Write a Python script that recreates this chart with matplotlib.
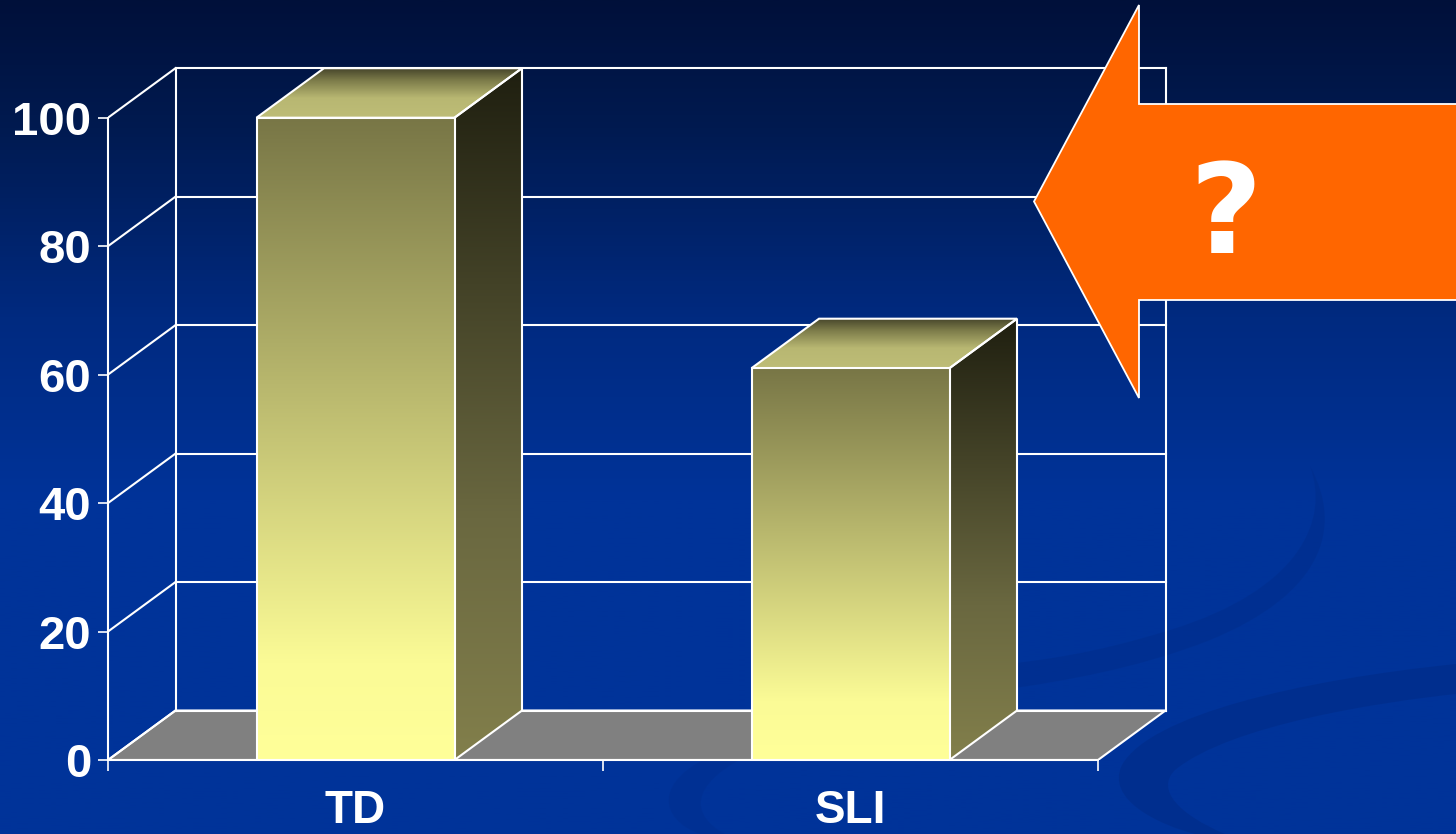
import numpy as np
import matplotlib
matplotlib.use('Agg')
import matplotlib.pyplot as plt
from matplotlib.patches import Polygon, PathPatch
from matplotlib.path import Path
from matplotlib.colors import LinearSegmentedColormap

plt.rcParams['font.family'] = ['Liberation Sans', 'DejaVu Sans']

# ---- data ----
categories = ['TD', 'SLI']
values = [100, 61]
yticks = [0, 20, 40, 60, 80, 100]

W, H = 1456, 834
fig = plt.figure(figsize=(W / 100, H / 100), dpi=100)

# ---- background ----
bg = fig.add_axes([0, 0, 1, 1], zorder=0)
bg.set_xlim(0, W); bg.set_ylim(H, 0); bg.axis('off')
cmap_bg = LinearSegmentedColormap.from_list(
    'bg', [(0, '#00103a'), (0.15, '#001a50'), (0.38, '#002a80'), (0.6, '#003399'), (1, '#003399')])
grad = np.linspace(0, 1, 500).reshape(-1, 1)
bg.imshow(grad, extent=[0, W, H, 0], aspect='auto', cmap=cmap_bg)

def crescent(verts_codes, color, alpha):
    verts, codes = zip(*verts_codes)
    p = PathPatch(Path(verts, codes), facecolor=color, edgecolor='none', alpha=alpha)
    bg.add_patch(p)

M, C, L, Z = Path.MOVETO, Path.CURVE4, Path.LINETO, Path.CLOSEPOLY
# big swoosh bottom right
crescent([((1456, 664), M), ((1300, 680), C), ((1150, 715), C), ((1122, 765), C),
          ((1105, 800), C), ((1160, 825), C), ((1195, 834), C),
          ((1225, 834), L), ((1180, 815), C), ((1155, 790), C), ((1175, 770), C),
          ((1230, 725), C), ((1380, 702), C), ((1456, 694), C),
          ((1456, 664), Z)], '#002d8a', 0.7)
# thin arc
crescent([((1310, 466), M), ((1330, 520), C), ((1300, 590), C), ((1170, 630), C),
          ((1090, 655), C), ((1040, 660), C), ((1000, 665), C),
          ((1000, 690), L), ((1060, 682), C), ((1140, 668), C), ((1210, 640), C),
          ((1320, 595), C), ((1345, 530), C), ((1310, 466), C),
          ((1310, 466), Z)], '#002d8a', 0.5)
# faint bottom-middle arc
crescent([((720, 752), M), ((650, 780), C), ((660, 820), C), ((700, 834), C),
          ((725, 834), L), ((690, 815), C), ((690, 785), C), ((745, 757), C),
          ((720, 752), Z)], '#002d8a', 0.35)

# ---- chart axes (pixel scale: x 495 px/unit, y 6.423 px/unit) ----
sx, sy = 495.0, 6.423
x0px, y0px = 108, 760
xmax, ymax = 2.2, 110
ax = fig.add_axes([x0px / W, (H - y0px) / H, xmax * sx / W, ymax * sy / H], zorder=1)
ax.patch.set_alpha(0)
dx = 67.5 / sx
dy = 49.5 / sy
ncat = len(categories)
lw = 1.5

# floor
ax.add_patch(Polygon([(0, 0), (ncat, 0), (ncat + dx, dy), (dx, dy)], closed=True,
                     facecolor='#808080', edgecolor='white', lw=lw, zorder=1))
# back wall and side wall grid
for t in yticks:
    ax.plot([dx, ncat + dx], [t + dy, t + dy], color='white', lw=lw, zorder=1.5)
    ax.plot([0, dx], [t, t + dy], color='white', lw=lw, zorder=1.5)
for xx in [dx, ncat + dx]:
    ax.plot([xx, xx], [dy, yticks[-1] + dy], color='white', lw=lw, zorder=1.5)

def grad_face(poly_pts, extent, colors, z):
    poly = Polygon(poly_pts, closed=True, facecolor='none', edgecolor='none')
    ax.add_patch(poly)
    cm = LinearSegmentedColormap.from_list('f', colors)
    g = np.linspace(0, 1, 256).reshape(-1, 1)
    im = ax.imshow(g, extent=extent, origin='lower', aspect='auto', cmap=cm,
                   interpolation='bilinear', zorder=z)
    im.set_clip_path(poly)
    outline = Polygon(poly_pts, closed=True, facecolor='none', edgecolor='white',
                      lw=lw, zorder=z + 0.1)
    ax.add_patch(outline)

bw = 0.4
for i, v in enumerate(values):
    xl = i + 0.5 - bw / 2
    xr = i + 0.5 + bw / 2
    # side face
    grad_face([(xr, 0), (xr + dx, dy), (xr + dx, v + dy), (xr, v)],
              [xr, xr + dx, 0, v + dy],
              [(0, '#827f4b'), (0.35, '#6a6840'), (1, '#1f1f10')], 3)
    # top face
    grad_face([(xl, v), (xr, v), (xr + dx, v + dy), (xl + dx, v + dy)],
              [xl, xr + dx, v, v + dy],
              [(0, '#bebd77'), (0.4, '#b8b772'), (0.75, '#7d7c4a'), (1, '#45442a')], 3)
    # front face
    grad_face([(xl, 0), (xr, 0), (xr, v), (xl, v)],
              [xl, xr, 0, v],
              [(0, '#ffff99'), (0.15, '#fbfb96'), (1, '#787646')], 4)

ax.set_xlim(0, xmax)
ax.set_ylim(0, ymax)
for s in ['top', 'right']:
    ax.spines[s].set_visible(False)
for s in ['left', 'bottom']:
    ax.spines[s].set_color('white')
    ax.spines[s].set_linewidth(lw)
ax.spines['left'].set_bounds(0, yticks[-1])
ax.spines['bottom'].set_bounds(0, ncat)

ax.set_yticks(yticks)
ax.set_yticklabels([str(t) for t in yticks], fontweight='bold', fontsize=34, color='white')
ax.tick_params(axis='y', length=7.2, width=1.2, color='white', pad=5)
ax.set_xticks(np.arange(ncat + 1))
ax.set_xticklabels([])
ax.set_xticks(np.arange(ncat) + 0.5, minor=True)
ax.set_xticklabels(categories, minor=True, fontweight='bold', fontsize=33, color='white')
ax.tick_params(axis='x', which='major', length=8, width=1.2, color='white')
ax.tick_params(axis='x', which='minor', length=0, pad=21)

# ---- arrow overlay ----
ov = fig.add_axes([0, 0, 1, 1], zorder=2)
ov.set_xlim(0, W); ov.set_ylim(H, 0); ov.axis('off')
ov.patch.set_alpha(0)
arrow_pts = [(W + 5, 104), (1139, 104), (1139, 5), (1034, 201.5), (1139, 398), (1139, 300), (W + 5, 300)]
ov.add_patch(Polygon(arrow_pts, closed=True, facecolor='#ff6600', edgecolor='white', lw=1.3))
ov.text(1226, 218, '?', color='white', fontsize=90, fontweight='bold',
        family=['DejaVu Sans'], ha='center', va='center')

fig.savefig('out.png', dpi=100)
